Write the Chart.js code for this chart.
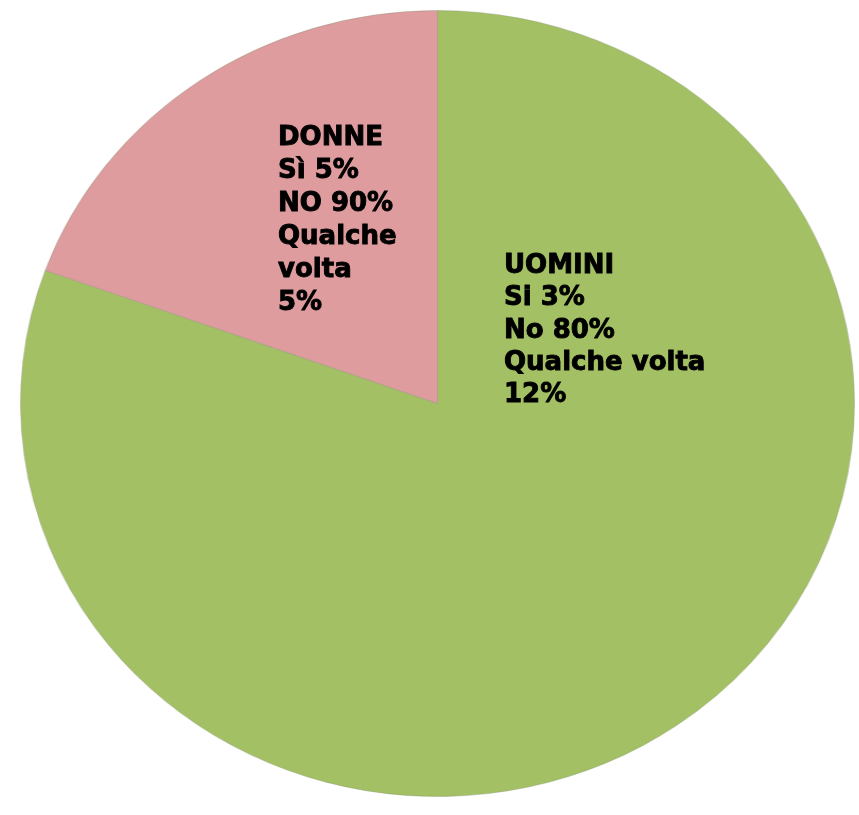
<!DOCTYPE html>
<html>
<head>
<meta charset="utf-8">
<script src="https://cdn.jsdelivr.net/npm/chart.js@4.4.1/dist/chart.umd.min.js"></script>
<style>
  html, body { margin: 0; padding: 0; background: #ffffff; }
  body { width: 859px; height: 815px; position: relative; overflow: hidden; }
  #wrap { position: absolute; left: 44px; top: 10px; width: 787px; height: 787px;
          transform: scaleX(1.061); transform-origin: 50% 50%; }
  .lbl { position: absolute; font-family: "DejaVu Sans", sans-serif; font-weight: bold;
         font-size: 26px; color: #000; -webkit-text-stroke: 0.9px #000; white-space: nowrap; }
  #donne { left: 278px; top: 120px; line-height: 33px; }
  #uomini { left: 504px; top: 248px; line-height: 32.3px; }
</style>
</head>
<body>
<div id="wrap"><canvas id="c"></canvas></div>
<div class="lbl" id="donne"></div>
<div class="lbl" id="uomini"></div>
<script>
const categories = ["UOMINI", "DONNE"];
const shares = [80.5, 19.5];
const sliceColors = ["#a3c064", "#de9c9e"];
const donneLines = ["DONNE", "Sì 5%", "NO 90%", "Qualche", "volta", "5%"];
const uominiLines = ["UOMINI", "Si 3%", "No 80%", "Qualche volta", "12%"];

document.getElementById('donne').innerHTML = donneLines.join('<br>');
document.getElementById('uomini').innerHTML = uominiLines.join('<br>');

new Chart(document.getElementById('c'), {
  type: 'pie',
  data: {
    labels: categories,
    datasets: [{
      data: shares,
      backgroundColor: sliceColors,
      borderColor: 'rgba(130,140,110,0.35)',
      borderWidth: 1
    }]
  },
  options: {
    responsive: true,
    maintainAspectRatio: false,
    animation: false,
    layout: { padding: 0 },
    plugins: { legend: { display: false }, tooltip: { enabled: false } }
  }
});
</script>
</body>
</html>
